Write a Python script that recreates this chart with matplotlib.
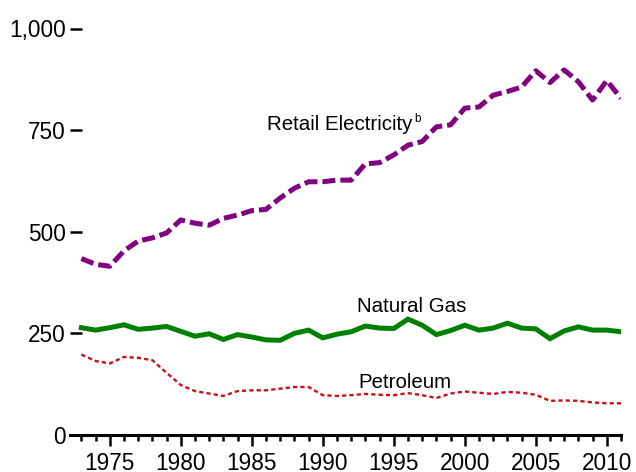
import matplotlib
matplotlib.use("Agg")
import matplotlib.pyplot as plt
from matplotlib.ticker import MultipleLocator, FuncFormatter

plt.rcParams['font.family'] = ['Liberation Sans', 'DejaVu Sans']

# ---- data ---- #
years = list(range(1973, 2012))

electricity = [434, 420, 415, 453, 477, 485, 497, 529, 521, 516,
               533, 541, 552, 555, 583, 607, 623, 623, 627, 627,
               667, 670, 689, 713, 722, 758, 763, 804, 807, 836,
               845, 856, 896, 867, 898, 869, 824, 872, 828]

natural_gas = [264, 258, 264, 271, 260, 263, 267, 255, 243, 249,
               235, 247, 241, 234, 233, 250, 258, 239, 248, 254,
               268, 263, 262, 285, 270, 247, 257, 270, 258, 263,
               275, 263, 261, 237, 256, 266, 258, 258, 254]

petroleum = [198, 182, 176, 192, 190, 184, 153, 123, 108, 102,
             96, 108, 110, 110, 114, 118, 118, 98, 96, 98,
             101, 99, 98, 103, 98, 91, 102, 107, 104, 101,
             106, 104, 99, 84, 85, 84, 80, 78, 78]

fig = plt.figure(figsize=(6.36, 4.72), dpi=100)
ax = fig.add_axes([70 / 636, 37 / 472, 551 / 636, 406.5 / 472])

ax.plot(years, electricity, color='#800080', lw=3.6,
        linestyle=(0, (2.6, 1.0)), dash_capstyle='butt')
ax.plot(years, natural_gas, color='#008000', lw=3.6, solid_joinstyle='miter')
ax.plot(years, petroleum, color='#c8101a', lw=1.7,
        linestyle=(0, (1.8, 1.3)), dash_capstyle='butt')

ax.set_xlim(1972.2, 2011)
ax.set_ylim(0, 1000)

# labels on the lines
t = ax.text(1986.1, 750, 'Retail Electricity', fontsize=14.8,
            ha='left', va='baseline')
ax.annotate('b', xy=(1, 0.5), xycoords=t, xytext=(0.8, 0),
            textcoords='offset points', fontsize=8.5, ha='left', va='bottom')
ax.text(1992.4, 302, 'Natural Gas', fontsize=14.8, ha='left', va='baseline')
ax.text(1992.5, 116, 'Petroleum', fontsize=14.8, ha='left', va='baseline')

# axes styling
for side in ['top', 'right', 'left']:
    ax.spines[side].set_visible(False)
ax.spines['bottom'].set_linewidth(2.2)

ax.yaxis.set_major_locator(MultipleLocator(250))
ax.yaxis.set_major_formatter(FuncFormatter(lambda v, p: f'{int(v):,}'))
ax.tick_params(axis='y', direction='in', length=8.6, width=1.8, pad=3,
               labelsize=16.3)

ax.xaxis.set_major_locator(MultipleLocator(5))
ax.xaxis.set_minor_locator(MultipleLocator(1))
ax.tick_params(axis='x', which='major', direction='out', length=8, width=1.8,
               pad=4, labelsize=16.3)
ax.tick_params(axis='x', which='minor', direction='out', length=4.5, width=1.8)

fig.savefig('out.png', dpi=100)
